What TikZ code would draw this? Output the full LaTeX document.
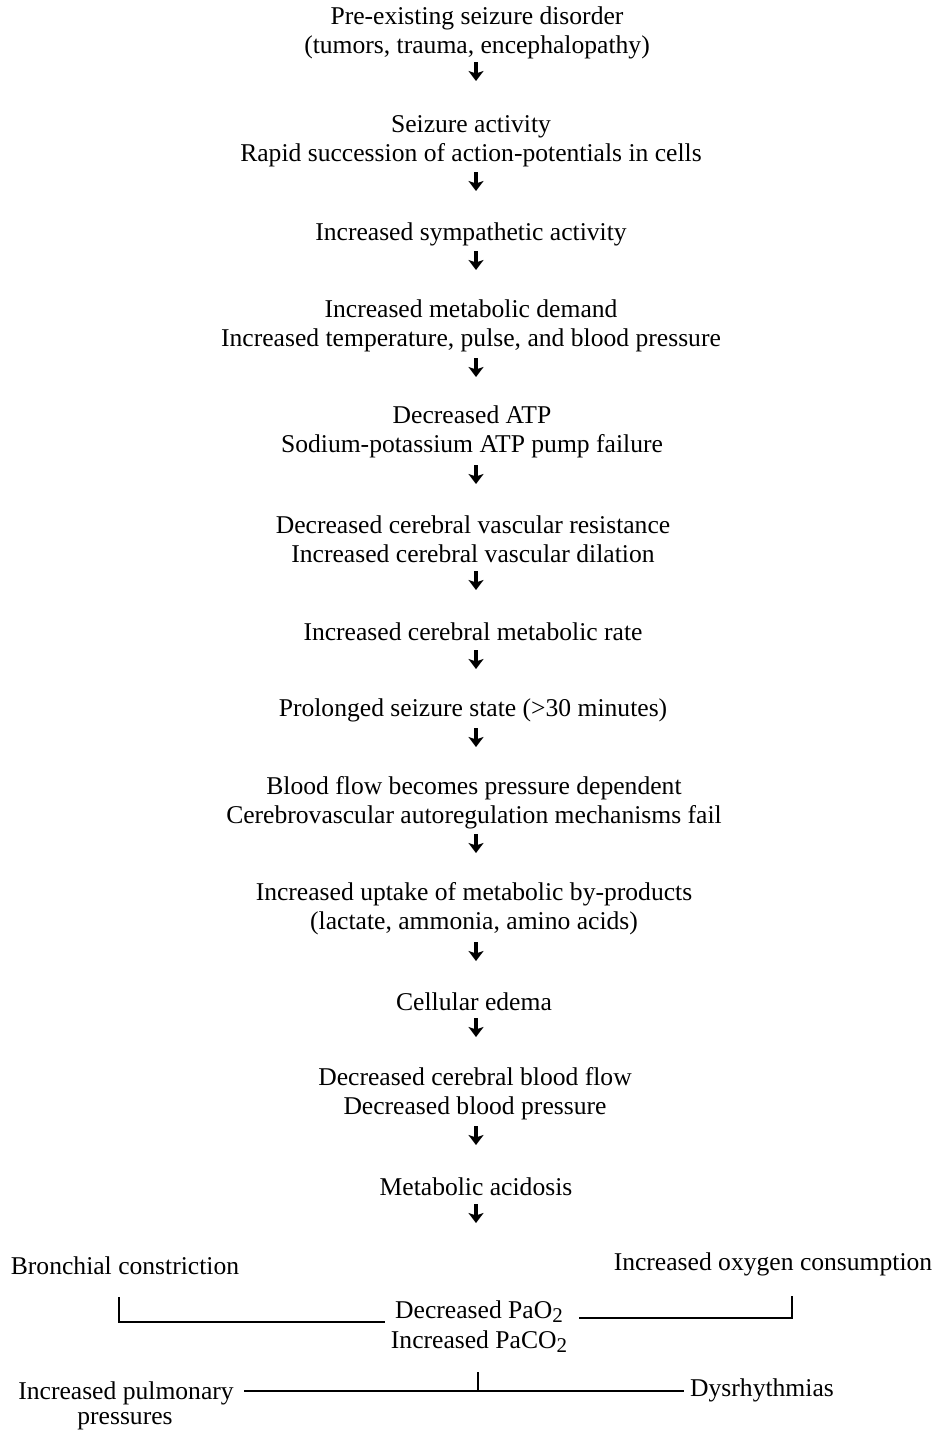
\documentclass[tikz,border=0pt]{standalone}
\usepackage{fontspec}
\setmainfont{Liberation Serif}
\usetikzlibrary{arrows.meta}
% lowered subscript digit in the text font
\newcommand{\lowtwo}{\raisebox{-0.35ex}{\fontsize{21}{21}\selectfont 2}}
\begin{document}
\begin{tikzpicture}[x=1pt,y=-1pt,
  txt/.style={font=\fontsize{25.6}{29}\selectfont, align=center, inner sep=0pt},
  arr/.style={line width=3.2pt, -{Stealth[length=10pt,width=15pt,inset=2.5pt]}},
  bar/.style={line width=2pt}]
\useasboundingbox (0,0) rectangle (937,1435);
% main chain
\node[txt] (n1)  at (477,33)   {Pre-existing seizure disorder\\(tumors, trauma, encephalopathy)};
\node[txt] (n2)  at (471,141)  {Seizure activity\\Rapid succession of action-potentials in cells};
\node[txt] (n3)  at (471,234)  {Increased sympathetic activity};
\node[txt] (n4)  at (471,326)  {Increased metabolic demand\\Increased temperature, pulse, and blood pressure};
\node[txt] (n5)  at (472,432)  {Decreased ATP\\Sodium-potassium ATP pump failure};
\node[txt] (n6)  at (473,539)  {Decreased cerebral vascular resistance\\Increased cerebral vascular dilation};
\node[txt] (n7)  at (473,632)  {Increased cerebral metabolic rate};
\node[txt] (n8)  at (473,710)  {Prolonged seizure state (>30 minutes)};
\node[txt] (n9)  at (474,803)  {Blood flow becomes pressure dependent\\Cerebrovascular autoregulation mechanisms fail};
\node[txt] (n10) at (474,909)  {Increased uptake of metabolic by-products\\(lactate, ammonia, amino acids)};
\node[txt] (n11) at (474,1002) {Cellular edema};
\node[txt] (n12) at (475,1094) {Decreased cerebral blood flow\\Decreased blood pressure};
\node[txt] (n13) at (476,1187) {Metabolic acidosis};
% short arrow below each step
\foreach \n/\y in {n1/62,n2/172,n3/251,n4/358,n5/465,n6/571,n7/650,n8/728,n9/834,n10/942,n11/1018,n12/1126,n13/1204}
  \draw[arr] (476,\y) -- ++(0,19);
% bottom block
\node[txt] (bc)  at (125,1266) {Bronchial constriction};
\node[txt] (ioc) at (773,1264) {Increased oxygen consumption};
\node[txt] (pao)  at (479,1312) {Decreased PaO\lowtwo};
\node[txt] (paco) at (479,1342) {Increased PaCO\lowtwo};
\node[txt] (ipp) at (126,1393) {Increased pulmonary};
\node[txt] (prs) at (125,1421) {pressures};
\node[txt, anchor=west] (dys) at (690,1390) {Dysrhythmias};
\coordinate (lt) at (119,1297);
\coordinate (rt) at (792,1296);
\coordinate (mid) at (478,1372);
\coordinate (bl) at (244,1391);
\coordinate (br) at (684,1391);
\draw[bar] (lt) |- ([xshift=-10pt]pao.west |- 0,1322);
\draw[bar] (rt) |- ([xshift=16pt]pao.east |- 0,1318);
\draw[bar] (bl) -- (br);
\draw[bar] (mid) -- (mid |- bl);
\end{tikzpicture}
\end{document}
